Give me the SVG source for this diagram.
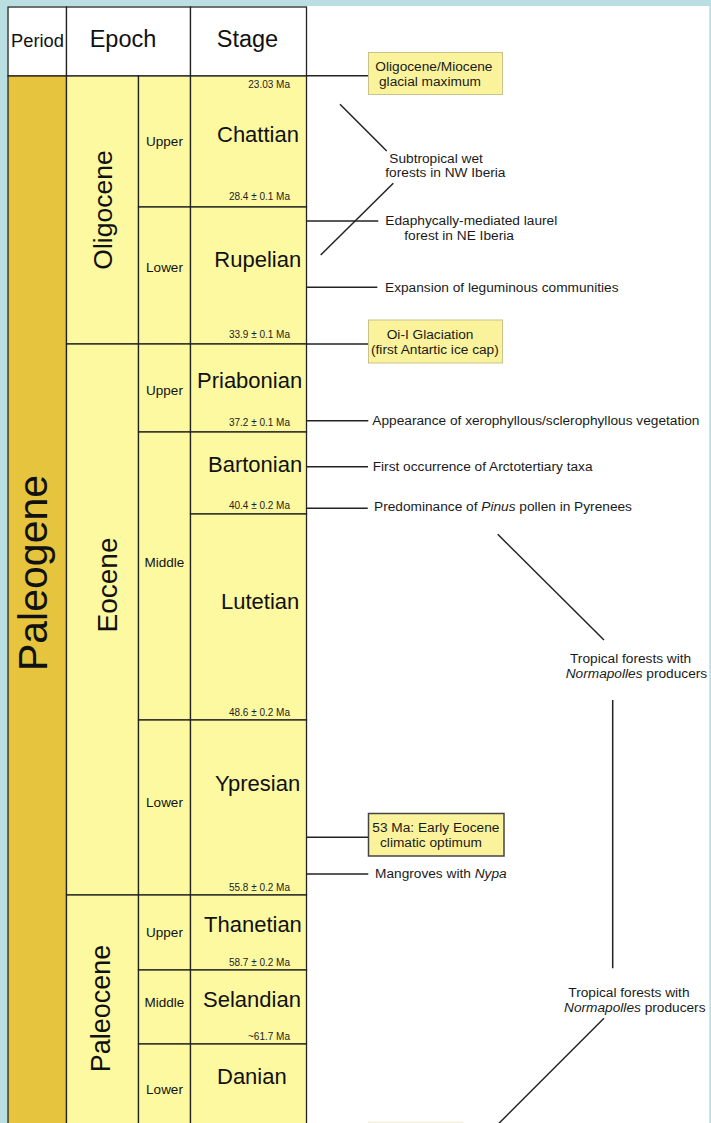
<svg xmlns="http://www.w3.org/2000/svg" width="711" height="1123" viewBox="0 0 711 1123">
<style>
text{font-family:"Liberation Sans",Arial,sans-serif;fill:#111}
.cell{stroke:#222;stroke-width:1.3}
.hdr{fill:#fff}
.gold{fill:#e6c43e}
.pale{fill:#fdf9a0}
.h{font-size:23.5px;text-anchor:middle}
.stage{font-size:22px}
.sub{font-size:13.5px;text-anchor:middle}
.date{font-size:10px;text-anchor:end;fill:#222}
.ep{font-size:27px;text-anchor:middle}
.ann{font-size:13.7px;fill:#1a1a1a}
.box{fill:#faf39b;stroke:#c9c28a;stroke-width:1}
.boxd{fill:#faf39b;stroke:#444;stroke-width:1.5}
.ln{stroke:#222;stroke-width:1.5;fill:none}
</style>
<rect x="0" y="0" width="711" height="1123" fill="#b9dfe2"/>
<rect x="7.5" y="6" width="702" height="1117" fill="#fff"/>

<g id="header">
<rect class="cell hdr" x="8" y="7" width="58.5" height="69"/>
<rect class="cell hdr" x="66.5" y="7" width="124" height="69"/>
<rect class="cell hdr" x="190.5" y="7" width="116" height="69"/>
<text class="h" x="37.5" y="46.7" style="font-size:18.3px">Period</text>
<text class="h" x="123" y="46.7">Epoch</text>
<text class="h" x="247.5" y="46.7">Stage</text>
</g>

<g id="period-paleogene">
<rect class="cell gold" x="8" y="76" width="58.5" height="1060"/>
<text class="ep" transform="translate(46.5,573) rotate(-90)" style="font-size:41px">Paleogene</text>
</g>

<g id="epoch-oligocene">
<rect class="cell pale" x="66.5" y="76" width="72" height="268"/>
<text class="ep" transform="translate(112,210) rotate(-90)" style="font-size:26.5px">Oligocene</text>
</g>
<g id="epoch-eocene">
<rect class="cell pale" x="66.5" y="344" width="72" height="551"/>
<text class="ep" transform="translate(117,585) rotate(-90)" style="font-size:28px">Eocene</text>
</g>
<g id="epoch-paleocene">
<rect class="cell pale" x="66.5" y="895" width="72" height="240"/>
<text class="ep" transform="translate(110,1008.5) rotate(-90)">Paleocene</text>
</g>

<g id="sub-oligocene-upper"><rect class="cell pale" x="138.5" y="76" width="52" height="131"/><text class="sub" x="164.5" y="145.5">Upper</text></g>
<g id="sub-oligocene-lower"><rect class="cell pale" x="138.5" y="207" width="52" height="137"/><text class="sub" x="164.5" y="272">Lower</text></g>
<g id="sub-eocene-upper"><rect class="cell pale" x="138.5" y="344" width="52" height="88"/><text class="sub" x="164.5" y="395">Upper</text></g>
<g id="sub-eocene-middle"><rect class="cell pale" x="138.5" y="432" width="52" height="288"/><text class="sub" x="164.5" y="567">Middle</text></g>
<g id="sub-eocene-lower"><rect class="cell pale" x="138.5" y="720" width="52" height="175"/><text class="sub" x="164.5" y="807">Lower</text></g>
<g id="sub-paleocene-upper"><rect class="cell pale" x="138.5" y="895" width="52" height="75"/><text class="sub" x="164.5" y="936.5">Upper</text></g>
<g id="sub-paleocene-middle"><rect class="cell pale" x="138.5" y="970" width="52" height="74"/><text class="sub" x="164.5" y="1006.5">Middle</text></g>
<g id="sub-paleocene-lower"><rect class="cell pale" x="138.5" y="1044" width="52" height="91"/><text class="sub" x="164.5" y="1093.5">Lower</text></g>

<g id="stage-chattian"><rect class="cell pale" x="190.5" y="76" width="116" height="131"/>
<text class="stage" x="217" y="141.7">Chattian</text>
<text class="date" x="290" y="88">23.03 Ma</text>
<text class="date" x="290" y="199.5">28.4 ± 0.1 Ma</text></g>
<g id="stage-rupelian"><rect class="cell pale" x="190.5" y="207" width="116" height="137"/>
<text class="stage" x="214.3" y="267.3">Rupelian</text>
<text class="date" x="290" y="337.5">33.9 ± 0.1 Ma</text></g>
<g id="stage-priabonian"><rect class="cell pale" x="190.5" y="344" width="116" height="88"/>
<text class="stage" x="197" y="388">Priabonian</text>
<text class="date" x="290" y="426">37.2 ± 0.1 Ma</text></g>
<g id="stage-bartonian"><rect class="cell pale" x="190.5" y="432" width="116" height="82"/>
<text class="stage" x="208" y="471.7">Bartonian</text>
<text class="date" x="290" y="508.5">40.4 ± 0.2 Ma</text></g>
<g id="stage-lutetian"><rect class="cell pale" x="190.5" y="514" width="116" height="206"/>
<text class="stage" x="221" y="609">Lutetian</text>
<text class="date" x="290" y="715.5">48.6 ± 0.2 Ma</text></g>
<g id="stage-ypresian"><rect class="cell pale" x="190.5" y="720" width="116" height="175"/>
<text class="stage" x="215" y="790.7">Ypresian</text>
<text class="date" x="290" y="890.5">55.8 ± 0.2 Ma</text></g>
<g id="stage-thanetian"><rect class="cell pale" x="190.5" y="895" width="116" height="75"/>
<text class="stage" x="204" y="932">Thanetian</text>
<text class="date" x="290" y="965.5">58.7 ± 0.2 Ma</text></g>
<g id="stage-selandian"><rect class="cell pale" x="190.5" y="970" width="116" height="74"/>
<text class="stage" x="203" y="1006.7">Selandian</text>
<text class="date" x="290" y="1040">~61.7 Ma</text></g>
<g id="stage-danian"><rect class="cell pale" x="190.5" y="1044" width="116" height="91"/>
<text class="stage" x="217" y="1084">Danian</text></g>

<g id="connectors">
<line class="ln" x1="306.5" y1="75.8" x2="368.5" y2="75.8"/>
<line class="ln" x1="340" y1="104.3" x2="386.7" y2="151"/>
<line class="ln" x1="393.3" y1="183.3" x2="320.7" y2="255"/>
<line class="ln" x1="306.5" y1="221" x2="378.3" y2="221"/>
<line class="ln" x1="306.5" y1="287.3" x2="377.3" y2="287.3"/>
<line class="ln" x1="306.5" y1="344" x2="368.5" y2="344"/>
<line class="ln" x1="306.5" y1="420.7" x2="368.3" y2="420.7"/>
<line class="ln" x1="306.5" y1="466.7" x2="368" y2="466.7"/>
<line class="ln" x1="306.5" y1="508.3" x2="367.7" y2="508.3"/>
<line class="ln" x1="497.7" y1="534.3" x2="604" y2="640"/>
<line class="ln" x1="612.7" y1="700" x2="612.7" y2="968.3"/>
<line class="ln" x1="306.5" y1="837.3" x2="368.5" y2="837.3"/>
<line class="ln" x1="306.5" y1="874" x2="368.3" y2="874"/>
<line class="ln" x1="604" y1="1018.3" x2="498.3" y2="1124"/>
</g>

<g id="note-oligo-miocene">
<rect class="box" x="368.5" y="52.5" width="134" height="42"/>
<text class="ann" x="375.3" y="70.7">Oligocene/Miocene</text>
<text class="ann" x="379" y="85.7">glacial maximum</text>
</g>
<g id="note-subtropical">
<text class="ann" x="389.3" y="162.7">Subtropical wet</text>
<text class="ann" x="385.3" y="177.3">forests in NW Iberia</text>
</g>
<g id="note-laurel">
<text class="ann" x="385.3" y="225">Edaphycally-mediated laurel</text>
<text class="ann" x="404.3" y="240">forest in NE Iberia</text>
</g>
<g id="note-leguminous">
<text class="ann" x="385" y="291.7">Expansion of leguminous communities</text>
</g>
<g id="note-oi1">
<rect class="box" x="368.5" y="320" width="134" height="43"/>
<text class="ann" x="386.7" y="339">Oi-I Glaciation</text>
<text class="ann" x="371" y="354.3">(first Antartic ice cap)</text>
</g>
<g id="note-xero">
<text class="ann" x="372.3" y="425">Appearance of xerophyllous/sclerophyllous vegetation</text>
</g>
<g id="note-arcto">
<text class="ann" x="372.7" y="471">First occurrence of Arctotertiary taxa</text>
</g>
<g id="note-pinus">
<text class="ann" x="374" y="511">Predominance of <tspan font-style="italic">Pinus</tspan> pollen in Pyrenees</text>
</g>
<g id="note-tropical-1">
<text class="ann" x="570" y="663.3">Tropical forests with</text>
<text class="ann" x="565.7" y="678.3"><tspan font-style="italic">Normapolles</tspan> producers</text>
</g>
<g id="note-eeco">
<rect class="boxd" x="368.5" y="813.5" width="135.5" height="42.5"/>
<text class="ann" x="372.3" y="831.7">53 Ma: Early Eocene</text>
<text class="ann" x="380" y="846.7">climatic optimum</text>
</g>
<g id="note-nypa">
<text class="ann" x="375" y="877.7">Mangroves with <tspan font-style="italic">Nypa</tspan></text>
</g>
<g id="note-tropical-2">
<text class="ann" x="568.3" y="996.7">Tropical forests with</text>
<text class="ann" x="564" y="1011.7"><tspan font-style="italic">Normapolles</tspan> producers</text>
</g>
<g id="note-bottom">
<rect x="368.5" y="1122.3" width="94.5" height="10" fill="#fefce8" stroke="#efecd2" stroke-width="1"/>
</g>
<rect x="709.5" y="0" width="1.5" height="1123" fill="#b9dfe2"/>
</svg>
